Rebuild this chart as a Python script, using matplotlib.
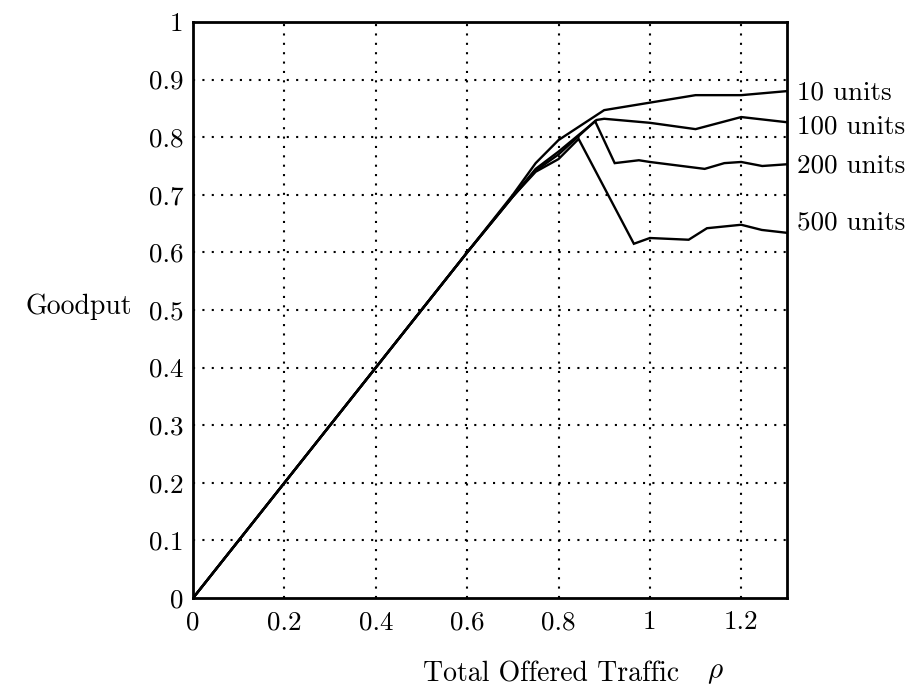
import matplotlib
matplotlib.use("Agg")
import matplotlib.pyplot as plt

plt.rcParams['font.family'] = ['cmr10', 'DejaVu Serif']
plt.rcParams['mathtext.fontset'] = 'cm'
plt.rcParams['axes.formatter.use_mathtext'] = True

# Data
x_10 = [0, 0.2, 0.4, 0.6, 0.7, 0.75, 0.8, 0.9, 1.0, 1.1, 1.2, 1.3]
y_10 = [0, 0.2, 0.4, 0.6, 0.7, 0.755, 0.795, 0.847, 0.86, 0.873, 0.873, 0.88]

x_100 = [0, 0.2, 0.4, 0.6, 0.7, 0.75, 0.8, 0.884, 0.9, 1.0, 1.1, 1.2, 1.3]
y_100 = [0, 0.2, 0.4, 0.6, 0.697, 0.745, 0.775, 0.83, 0.832, 0.825, 0.814, 0.835, 0.826]

x_200 = [0, 0.2, 0.4, 0.6, 0.7, 0.75, 0.8, 0.88, 0.923, 0.976, 1.0, 1.12, 1.163, 1.2, 1.246, 1.3]
y_200 = [0, 0.2, 0.4, 0.6, 0.697, 0.742, 0.77, 0.828, 0.755, 0.76, 0.757, 0.745, 0.755, 0.757, 0.75, 0.753]

x_500 = [0, 0.2, 0.4, 0.6, 0.7, 0.75, 0.8, 0.844, 0.965, 1.0, 1.085, 1.125, 1.2, 1.245, 1.3]
y_500 = [0, 0.2, 0.4, 0.6, 0.697, 0.74, 0.762, 0.797, 0.615, 0.625, 0.622, 0.642, 0.648, 0.639, 0.634]

series_labels = ["10 units", "100 units", "200 units", "500 units"]
label_y = [0.878, 0.819, 0.75, 0.652]

x_ticks = [0, 0.2, 0.4, 0.6, 0.8, 1.0, 1.2]
x_tick_labels = ["0", "0.2", "0.4", "0.6", "0.8", "1", "1.2"]
y_ticks = [0, 0.1, 0.2, 0.3, 0.4, 0.5, 0.6, 0.7, 0.8, 0.9, 1.0]
y_tick_labels = ["0", "0.1", "0.2", "0.3", "0.4", "0.5", "0.6", "0.7", "0.8", "0.9", "1"]

FS = 19.5

fig = plt.figure(figsize=(9.15, 6.94), dpi=100)
ax = fig.add_axes([0.211, 0.1383, 0.649, 0.830])

for xs, ys in [(x_10, y_10), (x_100, y_100), (x_200, y_200), (x_500, y_500)]:
    ax.plot(xs, ys, color='black', lw=1.7, zorder=3, solid_joinstyle='miter')

ax.set_xlim(0, 1.3)
ax.set_ylim(0, 1.0)
ax.set_xticks(x_ticks)
ax.set_xticklabels(x_tick_labels)
ax.set_yticks(y_ticks)
ax.set_yticklabels(y_tick_labels)
ax.tick_params(length=0, labelsize=FS)
ax.tick_params(axis='y', pad=7)
ax.tick_params(axis='x', pad=9)

for gx in x_ticks[1:]:
    ax.axvline(gx, color='black', lw=1.5, ls=(0, (1, 3.5)), zorder=1)
for gy in y_ticks[1:-1]:
    ax.axhline(gy, color='black', lw=1.5, ls=(0, (1, 3.5)), zorder=1)

for sp in ax.spines.values():
    sp.set_linewidth(2)

for lab, ly in zip(series_labels, label_y):
    ax.text(1.322, ly, lab, fontsize=FS, va='center', ha='left', clip_on=False)

ax.text(-0.134, 0.505, "Goodput", fontsize=FS + 0.5, va='center', ha='right', clip_on=False)

fig.text(0.462, 0.028, "Total Offered Traffic", fontsize=20, ha='left', va='center')
fig.text(0.782, 0.03, r"$\rho$", fontsize=21, ha='center', va='center')

fig.savefig("out.png", dpi=100)
